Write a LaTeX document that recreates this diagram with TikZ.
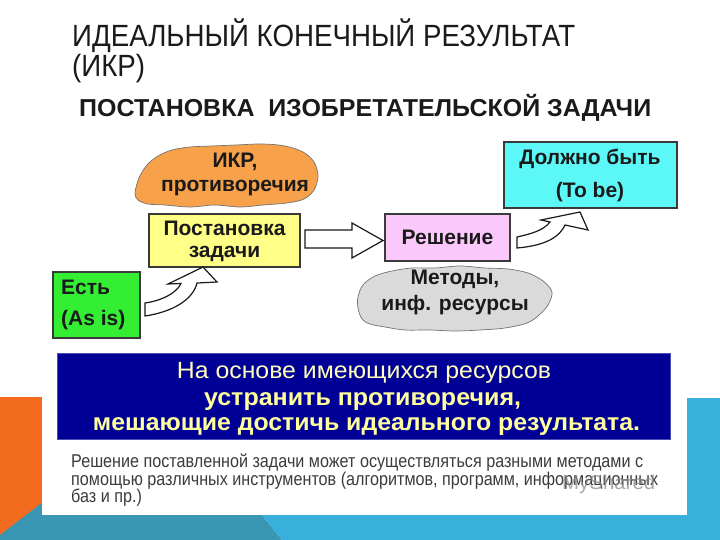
\documentclass[tikz,border=0pt]{standalone}
\usepackage{fontspec}
\setmainfont{Liberation Sans}
\usepackage{graphicx}
\definecolor{orangebg}{HTML}{F36B1E}
\definecolor{tealbg}{HTML}{3A97B4}
\definecolor{bluebg}{HTML}{39AFDC}
\definecolor{cloudor}{HTML}{F7A24A}
\definecolor{yelbox}{HTML}{FFFF88}
\definecolor{grnbox}{HTML}{33EE33}
\definecolor{pinkbox}{HTML}{FAC8FA}
\definecolor{cyanbox}{HTML}{5CF8F8}
\definecolor{cloudgr}{HTML}{DADADA}
\definecolor{navy}{HTML}{000096}
\definecolor{paleyel}{HTML}{FFFF9E}
\definecolor{ink}{HTML}{1A1A1A}
\definecolor{edge}{HTML}{3A3A3A}
\newcommand\fitw[2]{\resizebox{#1}{\height}{#2}}
\newcommand\titlefont{\fontsize{30.7}{30}\selectfont}
\newcommand\bodyfont{\fontsize{18.5}{18}\selectfont}
\newlength\tmpw
\begin{document}
\settowidth\tmpw{\titlefont ИДЕАЛЬНЫЙ КОНЕЧНЫЙ РЕЗУЛЬТАТ}
\pgfmathsetmacro\titlesx{503/\tmpw}
\settowidth\tmpw{\bodyfont Решение поставленной задачи может осуществляться разными методами с}
\pgfmathsetmacro\bodysx{572/\tmpw}
\begin{tikzpicture}[x=1pt,y=-1pt,
  boxst/.style={draw=edge, line width=1.6pt, inner sep=0},
  lbl/.style={font=\bfseries\fontsize{21}{24}\selectfont, text=ink, inner sep=0},
  bluetxt/.style={text=paleyel, inner sep=0, anchor=base},
  bodytxt/.style={font=\bodyfont, text=ink!85, inner sep=0, anchor=base west},
  blockarrow/.style={draw=ink, line width=1.2pt, fill=white, line join=miter},
  cloudst/.style={draw=black!55, line width=0.7pt}]
\useasboundingbox (0,0) rectangle (720,540);
\fill[white] (0,0) rectangle (720,540);
% background bands
\fill[orangebg] (0,397) rectangle (60,540);
\fill[tealbg] (0,535) -- (60,489) -- (242,490) -- (282,540) -- (0,540) -- cycle;
\fill[bluebg] (242,490) -- (687,490) -- (687,398) -- (720,398) -- (720,540) -- (282,540) -- cycle;
\fill[white] (42,380) rectangle (687,515);
% titles
\node[anchor=base west, inner sep=0, text=ink] (title1) at (72,47)
  {\titlefont\scalebox{\titlesx}[1]{ИДЕАЛЬНЫЙ КОНЕЧНЫЙ РЕЗУЛЬТАТ}};
\node[anchor=base west, inner sep=0, text=ink] (title2) at (72,77)
  {\titlefont\scalebox{\titlesx}[1]{(ИКР)}};
\node[anchor=base west, inner sep=0, text=ink] (sub) at (79,117)
  {\bfseries\fontsize{24.5}{26}\selectfont\fitw{572pt}{ПОСТАНОВКА\hspace{0.55em}ИЗОБРЕТАТЕЛЬСКОЙ ЗАДАЧИ}};
% clouds
\draw[cloudst, fill=cloudor] plot[smooth cycle, tension=0.55] coordinates {
 (135,193) (139,178) (147,165) (158,156) (172,150) (190,147) (212,146) (236,145)
 (262,144) (285,146) (303,152) (314,162) (318,176) (314,190) (304,199) (287,203)
 (263,205) (240,207) (215,205) (190,207) (165,205) (148,204) (138,200)};
\node[lbl, anchor=base] (ikr1) at (235,168) {ИКР,};
\node[lbl, anchor=base] (ikr2) at (235,192) {противоречия};
\draw[cloudst, fill=cloudgr] plot[smooth cycle, tension=0.55] coordinates {
 (358,297) (363,285) (375,276) (392,271) (412,268) (435,268) (460,266) (485,268)
 (508,269) (528,273) (543,281) (552,292) (548,305) (539,315) (527,323) (505,328)
 (480,330) (455,331) (430,330) (405,330) (385,327) (370,324) (362,319) (358,308)};
\node[lbl, anchor=base] (met1) at (455,284) {Методы,};
\node[lbl, anchor=base] (met2) at (455,310) {инф. ресурсы};
% boxes
\node[boxst, fill=yelbox, minimum width=151, minimum height=53] (post) at (224.5,240.5) {};
\node[lbl, anchor=base] (post1) at (224.5,236) {Постановка};
\node[lbl, anchor=base] (post2) at (224.5,257.5) {задачи};
\node[boxst, fill=grnbox, minimum width=87, minimum height=66] (est) at (96.5,305) {};
\node[lbl, anchor=base west] (est1) at (61,294) {Есть};
\node[lbl, anchor=base west] (est2) at (61,325) {(As is)};
\node[boxst, fill=pinkbox, minimum width=125, minimum height=47] (resh) at (447.5,237.5) {};
\node[lbl, anchor=base] (resh1) at (447.5,244) {Решение};
\node[boxst, fill=cyanbox, minimum width=173, minimum height=66] (tobe) at (590.5,175) {};
\node[lbl, anchor=base] (tobe1) at (590,165) {Должно быть};
\node[lbl, anchor=base] (tobe2) at (590,197) {(To be)};
% block arrows
\draw[blockarrow] (305,230) -- (352,230) -- (352,223) -- (383,240.5) -- (352,258)
  -- (352,248) -- (305,248) -- cycle;
\draw[blockarrow] (145,303) .. controls (160,301) and (176,294) .. (181,283.5)
  -- (168,284) -- (203,267) -- (217,282) -- (197,283)
  .. controls (193,300) and (172,312) .. (145,316) -- cycle;
\draw[blockarrow] (517,237) .. controls (530,234) and (543,231) .. (550,222)
  -- (541,220) -- (580,212) -- (588,230) -- (565,225)
  .. controls (558,240) and (540,246) .. (517,248) -- cycle;
% blue box
\node[fill=navy, draw=navy!70!white, line width=0.6pt, minimum width=613, minimum height=86, inner sep=0] (blue) at (363.5,396) {};
\node[bluetxt, text=paleyel!70!white] (bl1) at (364,378) {\fontsize{23.5}{24}\selectfont\fitw{374pt}{На основе имеющихся ресурсов}};
\node[bluetxt] (bl2) at (362.5,405) {\bfseries\fontsize{24}{24}\selectfont\fitw{317pt}{устранить противоречия,}};
\node[bluetxt] (bl3) at (366.5,430.5) {\bfseries\fontsize{24}{24}\selectfont\fitw{547pt}{мешающие достичь идеального результата.}};
% body text
\node[bodytxt] (bd1) at (71,467.5) {\scalebox{\bodysx}[1]{Решение поставленной задачи может осуществляться разными методами с}};
\node[bodytxt] (bd2) at (71,485) {\scalebox{\bodysx}[1]{помощью различных инструментов (алгоритмов, программ, информационных}};
\node[bodytxt] (bd3) at (71,502) {\scalebox{\bodysx}[1]{баз и пр.)}};
\node[anchor=base west, inner sep=0, text=black!45, opacity=0.75] (wm) at (562,489) {\fontsize{20}{20}\selectfont\fitw{93pt}{MyShared}};
\end{tikzpicture}
\end{document}
